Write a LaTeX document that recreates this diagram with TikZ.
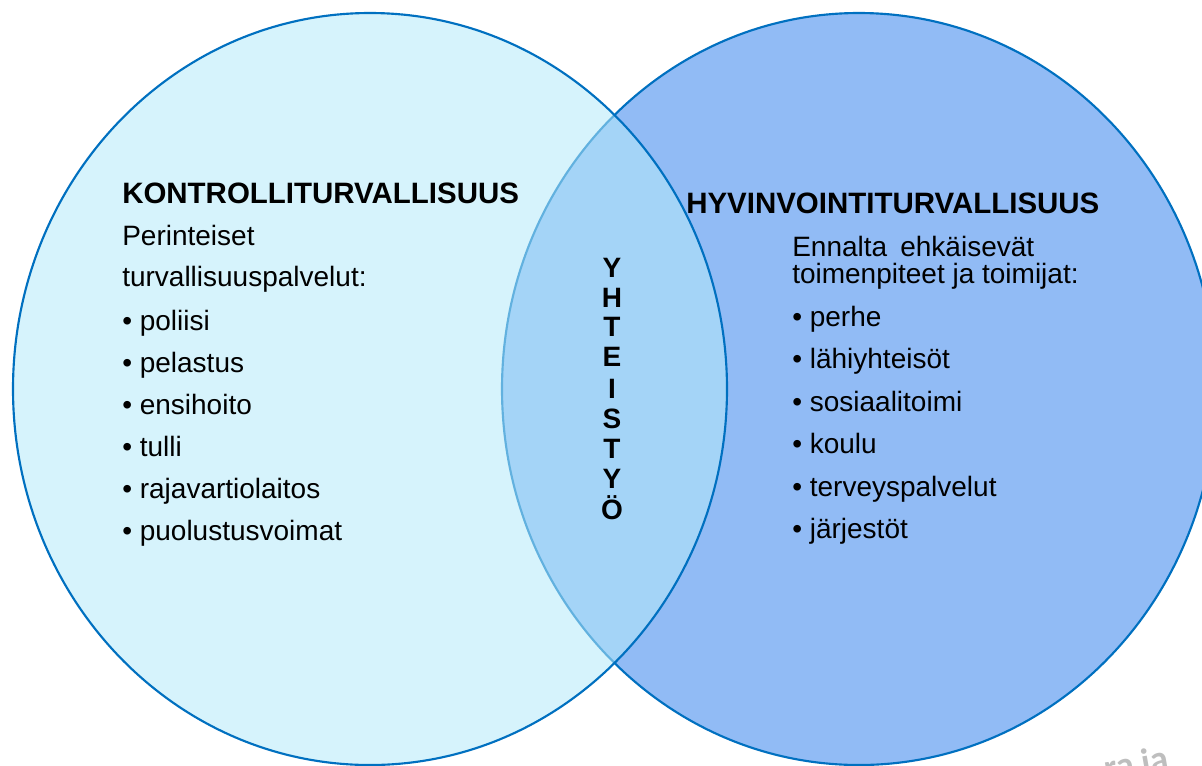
\documentclass[tikz,border=0pt]{standalone}
\usepackage{fontspec}
\setmainfont{Liberation Sans}
\newfontfamily\wmfont{Carlito}
\definecolor{leftfill}{RGB}{180,233,250}
\definecolor{rightfill}{RGB}{145,187,245}
\definecolor{edgeblue}{RGB}{0,112,192}
\definecolor{wmgray}{RGB}{190,190,190}
\begin{document}
\begin{tikzpicture}[x=0.75pt,y=-0.75pt,
  txt/.style={anchor=base west, inner sep=0pt, font=\fontsize{21}{25}\selectfont},
  ttl/.style={anchor=base west, inner sep=0pt, font=\fontsize{22.1}{25}\selectfont\bfseries},
  vlet/.style={anchor=base, inner sep=0pt, font=\fontsize{21}{25}\selectfont\bfseries},
  edge/.style={draw=edgeblue, line width=1.6pt}]
\clip (0,0) rectangle (1202,765);
\useasboundingbox (0,0) rectangle (1202,765);
\fill[white] (0,0) rectangle (1202,765);
% right circle
\fill[rightfill] (859,389) ellipse [x radius=357, y radius=376];
\draw[edge] (859,389) ellipse [x radius=357, y radius=376];
% left circle (translucent over the right one)
\fill[leftfill, fill opacity=0.545] (370,389) ellipse [x radius=357, y radius=376];
\draw[edge] (370,389) ellipse [x radius=357, y radius=376];

% left texts
\node[ttl] (lt) at (122,203) {KONTROLLITURVALLISUUS};
\node[txt] (l1) at (122,245) {Perinteiset};
\node[txt] (l2) at (122,286) {turvallisuuspalvelut:};
\node[txt] (l3) at (122,330) {\textbullet\ poliisi};
\node[txt] (l4) at (122,372) {\textbullet\ pelastus};
\node[txt] (l5) at (122,414) {\textbullet\ ensihoito};
\node[txt] (l6) at (122,456) {\textbullet\ tulli};
\node[txt] (l7) at (122,498) {\textbullet\ rajavartiolaitos};
\node[txt] (l8) at (122,540) {\textbullet\ puolustusvoimat};

% right texts
\node[ttl] (rt) at (686,213) {HYVINVOINTITURVALLISUUS};
\node[txt] (r1) at (792,256) {Ennalta\hspace{4pt} ehkäisevät};
\node[txt] (r2) at (792,283) {toimenpiteet ja toimijat:};
\node[txt] (r3) at (792,326) {\textbullet\ perhe};
\node[txt] (r4) at (792,368) {\textbullet\ lähiyhteisöt};
\node[txt] (r5) at (792,411) {\textbullet\ sosiaalitoimi};
\node[txt] (r6) at (792,453) {\textbullet\ koulu};
\node[txt] (r7) at (792,496) {\textbullet\ terveyspalvelut};
\node[txt] (r8) at (792,538) {\textbullet\ järjestöt};

% vertical word
\node[vlet] (v1) at (612,277) {Y};
\node[vlet] (v2) at (612,307) {H};
\node[vlet] (v3) at (612,336) {T};
\node[vlet] (v4) at (612,366) {E};
\node[vlet] (v5) at (612,398) {I};
\node[vlet] (v6) at (612,428) {S};
\node[vlet] (v7) at (612,458) {T};
\node[vlet] (v8) at (612,488) {Y};
\node[vlet] (v9) at (612,519) {Ö};

% faint watermark fragment
\node[anchor=base west, inner sep=0pt, rotate=10, text=wmgray,
      font=\wmfont\bfseries\fontsize{27}{30}\selectfont] (wm) at (1106,781) {ra ja};
\end{tikzpicture}
\end{document}
